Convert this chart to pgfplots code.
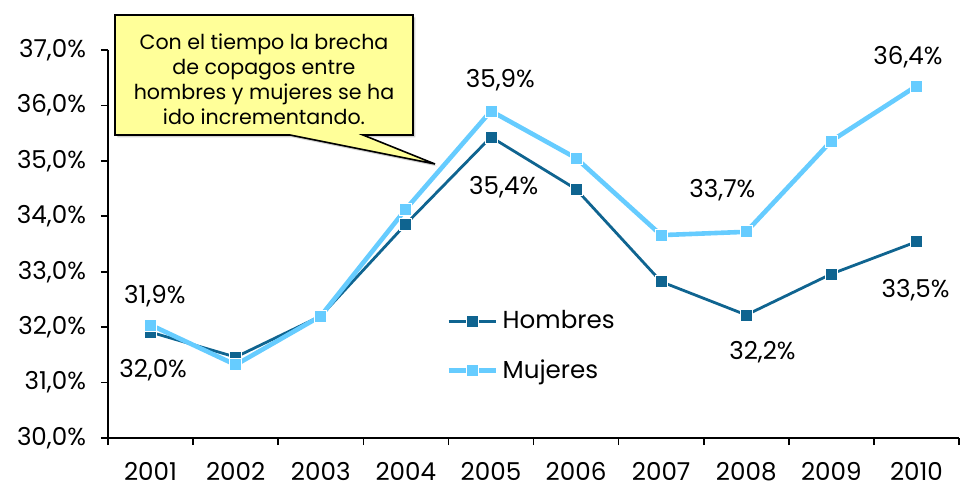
\documentclass[border=0pt]{standalone}
\usepackage{fontspec}
\setmainfont{Poppins}
\usepackage{pgfplots}
\pgfplotsset{compat=1.18}
\usetikzlibrary{shadows}
\definecolor{hom}{HTML}{0F6490}
\definecolor{muj}{HTML}{66CCFF}
\definecolor{callout}{HTML}{FFFF99}
\begin{document}
\begin{tikzpicture}[x=1pt,y=1pt]
\useasboundingbox (-54,-25.5) rectangle (428,219);
\begin{axis}[
  at={(0,0)}, anchor=south west,
  scale only axis, width=425.5pt, height=194pt,
  xmin=-0.5, xmax=9.5, ymin=30, ymax=37,
  axis x line*=bottom, axis y line*=left,
  axis line style={line width=1pt,-},
  tick align=outside, major tick length=3.5pt,
  tick style={black, line width=0.8pt},
  xtick={-0.5,0.5,...,9.5}, xticklabels={},
  extra x ticks={0,1,2,3,4,5,6,7,8,9},
  extra x tick labels={2001,2002,2003,2004,2005,2006,2007,2008,2009,2010},
  extra x tick style={major tick length=0pt},
  ytick={30,31,32,33,34,35,36,37},
  yticklabels={{30,0\%},{31,0\%},{32,0\%},{33,0\%},{34,0\%},{35,0\%},{36,0\%},{37,0\%}},
  ticklabel style={font=\fontsize{12.3}{14}\selectfont},
  xticklabel style={yshift=-8.5pt},
  yticklabel style={xshift=-4pt},
  legend style={at={(rel axis cs:0.39,0.35)}, anchor=north west, draw=none, fill=none,
    row sep=10pt, font=\fontsize{12.3}{14}\selectfont},
  legend cell align=left,
  legend image code/.code={\draw[mark repeat=2,mark phase=2] plot coordinates {(0cm,0cm) (0.42cm,0cm) (0.84cm,0cm)};},
  clip=false,
]
\addplot[hom, line width=1.4pt, mark=square*, mark size=3pt, mark options={draw=white, line width=0.4pt, fill=hom}]
  coordinates {(0,31.91) (1,31.46) (2,32.20) (3,33.86) (4,35.43) (5,34.49) (6,32.82) (7,32.22) (8,32.96) (9,33.54)};
\addlegendentry{Hombres}
\addplot[muj, line width=2.3pt, mark=square*, mark size=3pt, mark options={draw=white, line width=0.4pt, fill=muj}]
  coordinates {(0,32.04) (1,31.32) (2,32.20) (3,34.13) (4,35.90) (5,35.05) (6,33.66) (7,33.72) (8,35.36) (9,36.35)};
\addlegendentry{Mujeres}
\begin{scope}[font=\fontsize{12.3}{14}\selectfont]
\node at (axis cs:0.05,32.55) {31,9\%};
\node at (axis cs:0.03,31.23) {32,0\%};
\node at (axis cs:4.11,36.46) {35,9\%};
\node at (axis cs:4.15,34.53) {35,4\%};
\node at (axis cs:6.72,34.47) {33,7\%};
\node at (axis cs:7.19,31.55) {32,2\%};
\node at (axis cs:8.90,36.87) {36,4\%};
\node at (axis cs:8.99,32.67) {33,5\%};
\end{scope}
\end{axis}
\draw[fill=callout, line width=0.8pt, drop shadow={shadow xshift=1.2pt, shadow yshift=-1.2pt, opacity=0.35}]
  (3.5,151.5) -- (91,151.5) -- (163.5,137) -- (127.5,151.5) -- (152.5,151.5) -- (152.5,211.5) -- (3.5,211.5) -- cycle;
\node[align=center, font=\fontsize{10.3}{12.5}\selectfont] at (78,179.5)
  {Con el tiempo la brecha\\de copagos entre\\hombres y mujeres se ha\\ido incrementando.};
\end{tikzpicture}
\end{document}
